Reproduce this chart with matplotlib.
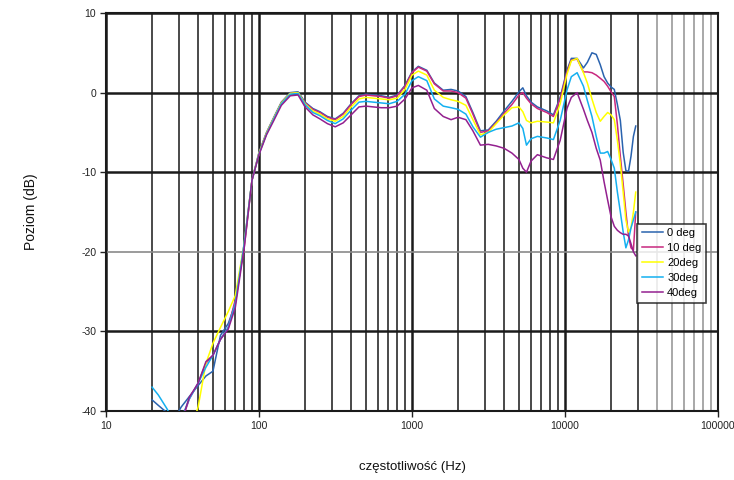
import numpy as np
import matplotlib
matplotlib.use("Agg")
import matplotlib.pyplot as plt

plt.rcParams['font.family'] = ['Liberation Sans', 'DejaVu Sans']

freq_hz = [20, 22, 25, 28, 31, 35, 40, 45, 50, 56,
           63, 70, 80, 90, 100, 112, 125, 140, 160, 180,
           200, 225, 250, 280, 315, 355, 400, 450, 500, 560,
           630, 710, 800, 900, 1000, 1100, 1250, 1400, 1600, 1800,
           2000, 2250, 2500, 2800, 3150, 3550, 4000, 4500, 5000, 5300,
           5600, 6000, 6600, 7600, 8400, 9300, 10300, 11000, 12000, 13200,
           14000, 15000, 16000, 17000, 18000, 19000, 20000, 21000, 22000, 23000,
           24000, 25000, 26000, 27000, 28000, 29000]

nan = np.nan
db_0deg = [-38.6, -39.3, -40.2, -41.0, -39.5, -38.2, -36.8, -35.6, -35.0, -30.5,
           -29.0, -26.5, -19.0, -11.0, -7.5, -5.0, -3.1, -1.2, 0.0, 0.1,
           -1.2, -2.0, -2.4, -3.0, -3.3, -2.6, -1.4, -0.4, -0.2, -0.3,
           -0.4, -0.6, -0.3, 0.9, 2.6, 3.3, 2.8, 1.2, 0.3, 0.4,
           0.2, -0.5, -2.5, -4.8, -4.7, -3.6, -2.3, -1.1, 0.1, 0.6,
           -0.4, -1.2, -1.8, -2.3, -2.8, -0.6, 2.8, 4.3, 4.3, 3.1,
           3.8, 5.0, 4.8, 3.5, 2.0, 1.2, 0.7, 0.4, -1.5, -3.5,
           -7.5, -9.8, -9.9, -8.0, -5.5, -4.2]
db_10deg = [-40.5, -42.0, -43.0, -43.0, -41.5, -38.5, -36.5, -34.0, -33.0, -31.0,
            -29.5, -26.0, -19.5, -11.0, -7.6, -5.1, -3.2, -1.3, -0.1, 0.0,
            -1.3, -2.1, -2.5, -3.1, -3.4, -2.7, -1.5, -0.5, -0.3, -0.4,
            -0.5, -0.7, -0.4, 0.8, 2.5, 3.2, 2.7, 1.1, 0.2, 0.2,
            0.0, -0.7, -2.7, -5.0, -4.8, -3.8, -2.6, -1.5, -0.3, 0.0,
            -0.7, -1.4, -2.0, -2.5, -3.0, -0.8, 2.6, 4.1, 4.2, 2.6,
            2.6, 2.5, 2.2, 1.8, 1.4, 0.8, 0.1, -0.5, -4.0, -8.0,
            -11.5, -15.0, -18.0, -19.5, -19.8, -15.0]
db_20deg = [nan, nan, nan, nan, nan, -43.0, -39.5, -34.0, -31.5, -29.5,
            -27.5, -25.5, -19.0, -11.0, -7.6, -5.1, -3.2, -1.3, -0.1, 0.0,
            -1.4, -2.3, -2.7, -3.3, -3.6, -3.0, -1.8, -0.8, -0.6, -0.7,
            -0.8, -0.9, -0.7, 0.4, 2.2, 2.7, 2.2, 0.3, -0.6, -0.9,
            -1.1, -1.6, -3.4, -5.3, -5.0, -3.9, -2.8, -1.9, -1.8, -2.4,
            -3.5, -3.8, -3.6, -3.7, -3.8, -1.4, 2.3, 4.0, 4.3, 2.5,
            1.2, -0.8, -2.5, -3.6, -3.0, -2.5, -2.8, -3.4, -6.0, -9.0,
            -12.5, -16.0, -17.5, -17.0, -15.0, -12.5]
db_30deg = [-37.0, -38.0, -39.7, -41.5, -41.0, -38.5, -36.5, -34.5, -33.0, -31.0,
            -29.5, -26.5, -19.0, -11.0, -7.7, -5.2, -3.3, -1.4, -0.2, -0.1,
            -1.5, -2.5, -2.9, -3.5, -3.9, -3.3, -2.2, -1.2, -1.1, -1.2,
            -1.3, -1.4, -1.1, -0.2, 1.5, 2.0, 1.5, -0.8, -1.7, -1.9,
            -2.1, -2.7, -4.3, -5.6, -5.0, -4.6, -4.4, -4.2, -3.8, -4.5,
            -6.6, -5.8, -5.5, -5.7, -5.9, -3.5, 0.3, 2.0, 2.5, 0.8,
            -1.0, -3.0, -5.5, -7.6, -7.6, -7.4, -8.4, -9.5, -12.5, -15.0,
            -17.5, -19.5, -18.5, -17.0, -16.0, -15.0]
db_40deg = [-40.5, -41.5, -43.0, -43.0, -41.5, -38.3, -36.5, -33.8, -33.0, -31.0,
            -29.7, -27.0, -19.5, -11.0, -7.8, -5.3, -3.5, -1.6, -0.4, -0.3,
            -1.8, -2.8, -3.3, -3.9, -4.3, -3.8, -2.8, -1.8, -1.7, -1.8,
            -1.9, -1.9, -1.7, -0.8, 0.6, 0.9, 0.3, -2.0, -3.0, -3.4,
            -3.1, -3.4, -4.8, -6.6, -6.5, -6.7, -7.0, -7.6, -8.4, -9.5,
            -10.0, -8.6, -7.8, -8.2, -8.4, -6.0, -2.0, -0.6, 0.0, -2.1,
            -3.5, -5.0, -7.0, -8.5, -11.2, -13.5, -15.6, -16.8, -17.3, -17.6,
            -17.8, -17.8, -18.0, -19.0, -20.0, -20.5]

series_labels = ["0 deg", "10 deg", "20deg", "30deg", "40deg"]
series_colors = ["#2a63ae", "#c8287f", "#ffff00", "#14b0f0", "#93208f"]
series_values = [db_0deg, db_10deg, db_20deg, db_30deg, db_40deg]

y_ticks = [10, 0, -10, -20, -30, -40]
x_ticks = [10, 100, 1000, 10000, 100000]

fig = plt.figure(figsize=(7.34, 4.8), dpi=100)
ax = fig.add_axes([106/734, 1-411/480, 612/734, 398/480])
ax.set_xscale('log')
ax.set_xlim(10, 100000)
ax.set_ylim(-40, 10)

# grid
for dec in [10, 100, 1000, 10000]:
    for m in range(2, 10):
        f = dec * m
        if f < 20:
            continue
        col = '#2a2a2a' if f <= 30000 else '#9a9a9a'
        ax.axvline(f, color=col, lw=1.2, zorder=1)
for f in x_ticks:
    ax.axvline(f, color='#1a1a1a', lw=1.8, zorder=1)
for y in y_ticks:
    if y == -20:
        ax.axhline(y, color='#8a8a8a', lw=1.2, zorder=1)
    else:
        ax.axhline(y, color='#1a1a1a', lw=1.8, zorder=1)

f = np.array(freq_hz, dtype=float)
for lab, col, vals in zip(series_labels, series_colors, series_values):
    ax.plot(f, np.array(vals, dtype=float), color=col, lw=1.1, label=lab, zorder=3)

ax.set_yticks(y_ticks)
ax.set_yticklabels([str(v) for v in y_ticks])
ax.set_xticks(x_ticks)
ax.set_xticklabels([str(v) for v in x_ticks])
ax.xaxis.set_minor_locator(matplotlib.ticker.NullLocator())
ax.tick_params(axis='both', labelsize=7.5, colors='#222222', length=4, width=1, direction='out', pad=3)
for s in ax.spines.values():
    s.set_color('#1a1a1a')
    s.set_linewidth(1.5)

ax.set_ylabel("Poziom (dB)", fontsize=10, labelpad=31, color='#111111')
ax.set_xlabel("częstotliwość (Hz)", fontsize=9.5, labelpad=22, color='#111111')

leg = ax.legend(loc='upper left', bbox_to_anchor=(0.868, 0.470), borderaxespad=0,
                fontsize=8, frameon=True, fancybox=False, handlelength=1.9,
                handletextpad=0.4, labelspacing=0.45, borderpad=0.4)
leg.get_frame().set_edgecolor('#111111')
leg.get_frame().set_linewidth(1.2)
leg.set_zorder(5)

fig.savefig("out.png", dpi=100)
